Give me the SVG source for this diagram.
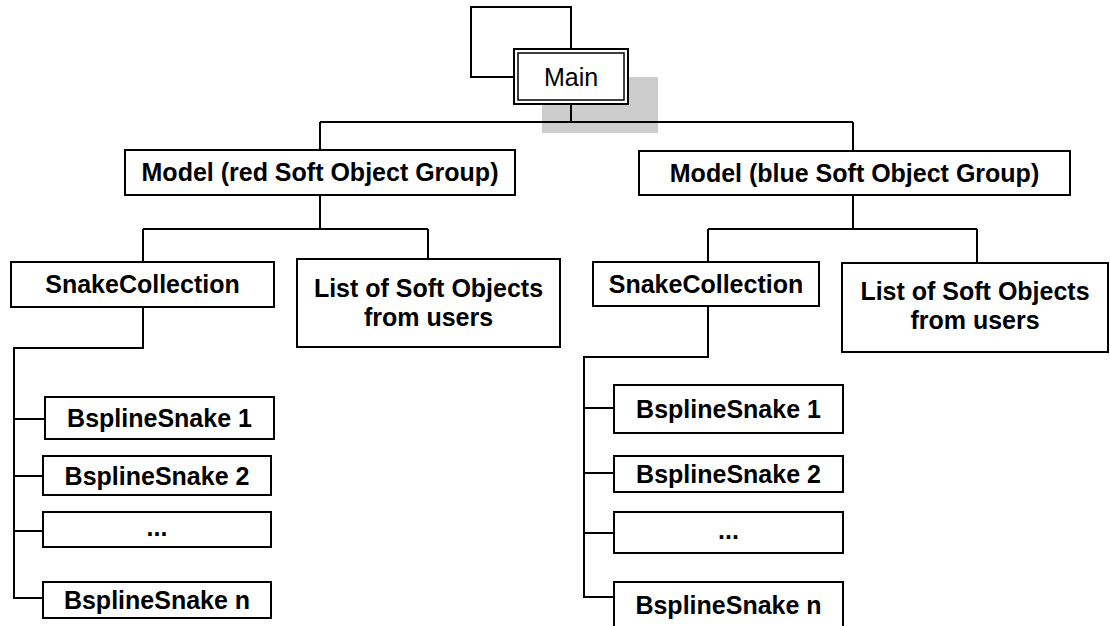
<svg xmlns="http://www.w3.org/2000/svg" width="1110" height="626" viewBox="0 0 1110 626">
<style>
.box{fill:#fff;stroke:#000;stroke-width:2}
.ln{fill:none;stroke:#000;stroke-width:2}
.t{font-family:"Liberation Sans",Arial,sans-serif;font-weight:bold;font-size:25px;text-anchor:middle;fill:#000}
.tm{font-family:"Liberation Sans",Arial,sans-serif;font-size:25px;text-anchor:middle;fill:#000}
</style>
<rect x="542" y="77" width="116" height="56" fill="#cccccc"/>
<g id="connectors">
<path class="ln" d="M515,77 H471 V7 H571 V49"/>
<path class="ln" d="M571,104 V122 M320,122 H853 M320,122 V150 M853,122 V151"/>
<path class="ln" d="M320,195 V229 M143,229 H428 M143,229 V262 M428,229 V259"/>
<path class="ln" d="M853,195 V229 M708,229 H977 M708,229 V262 M977,229 V263"/>
<path class="ln" d="M143,307 V348 H14 V598 H43 M14,419 H45 M14,476 H43 M14,531 H43"/>
<path class="ln" d="M708,306 V357 H584 V597 H614 M584,408 H614 M584,473 H614 M584,533 H614"/>
</g>
<g id="main">
<rect class="box" x="514" y="49" width="114" height="55" stroke-width="2.5"/>
<rect x="518" y="53" width="106" height="47" fill="none" stroke="#000" stroke-width="1.5"/>
<text class="tm" x="571" y="86">Main</text>
</g>
<g id="model-red">
<rect class="box" x="125" y="150" width="390" height="45"/>
<text class="t" x="320" y="181">Model (red Soft Object Group)</text>
</g>
<g id="model-blue">
<rect class="box" x="639" y="151" width="431" height="44"/>
<text class="t" x="854.5" y="182">Model (blue Soft Object Group)</text>
</g>
<g id="snake-red">
<rect class="box" x="11" y="262" width="263" height="45"/>
<text class="t" x="142.5" y="293">SnakeCollection</text>
</g>
<g id="list-red">
<rect class="box" x="297" y="259" width="263" height="88"/>
<text class="t" x="428.5" y="297">List of Soft Objects</text>
<text class="t" x="428.5" y="326">from users</text>
</g>
<g id="snake-blue">
<rect class="box" x="593" y="262" width="226" height="44"/>
<text class="t" x="706" y="293">SnakeCollection</text>
</g>
<g id="list-blue">
<rect class="box" x="842" y="263" width="266" height="89"/>
<text class="t" x="975" y="300">List of Soft Objects</text>
<text class="t" x="975" y="329">from users</text>
</g>
<g id="red-b1"><rect class="box" x="45" y="397" width="229" height="42"/><text class="t" x="159.5" y="427">BsplineSnake 1</text></g>
<g id="red-b2"><rect class="box" x="43" y="456" width="228" height="39"/><text class="t" x="157" y="485">BsplineSnake 2</text></g>
<g id="red-dots"><rect class="box" x="43" y="512" width="228" height="35"/><text class="t" x="157" y="536">...</text></g>
<g id="red-bn"><rect class="box" x="43" y="582" width="228" height="36"/><text class="t" x="157" y="609">BsplineSnake n</text></g>
<g id="blue-b1"><rect class="box" x="614" y="385" width="229" height="48"/><text class="t" x="728.5" y="418">BsplineSnake 1</text></g>
<g id="blue-b2"><rect class="box" x="614" y="456" width="229" height="36"/><text class="t" x="728.5" y="483">BsplineSnake 2</text></g>
<g id="blue-dots"><rect class="box" x="614" y="512" width="229" height="41"/><text class="t" x="728.5" y="539">...</text></g>
<g id="blue-bn"><rect class="box" x="614" y="582" width="229" height="48"/><text class="t" x="728.5" y="614">BsplineSnake n</text></g>
</svg>
